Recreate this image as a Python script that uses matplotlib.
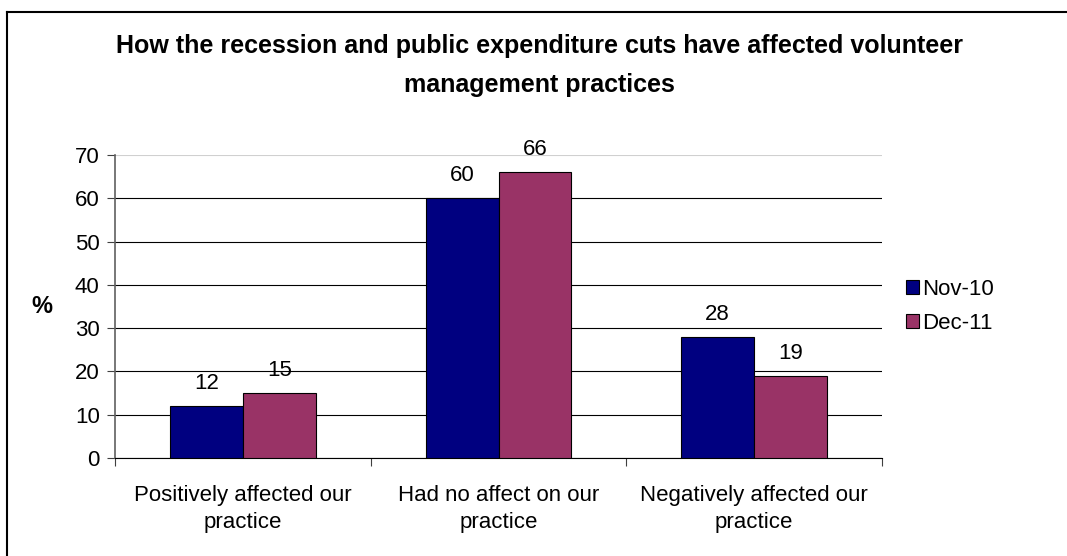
import matplotlib.pyplot as plt
from matplotlib.lines import Line2D
import numpy as np

plt.rcParams['font.family'] = ['Liberation Sans', 'DejaVu Sans']

categories = ['Positively affected our\npractice',
              'Had no affect on our\npractice',
              'Negatively affected our\npractice']
series_names = ['Nov-10', 'Dec-11']
nov_10 = [12, 60, 28]
dec_11 = [15, 66, 19]
y_ticks = [0, 10, 20, 30, 40, 50, 60, 70]

fig = plt.figure(figsize=(10.67, 5.56), dpi=100)
ax = fig.add_axes([0.1078, 0.1763, 0.7188, 0.5449])

x = np.arange(len(categories))
w = 0.285
b1 = ax.bar(x - w / 2, nov_10, w, color='#000080', edgecolor='black',
            linewidth=0.8, label=series_names[0], zorder=3)
b2 = ax.bar(x + w / 2, dec_11, w, color='#993366', edgecolor='black',
            linewidth=0.8, label=series_names[1], zorder=3)

for bars, vals in ((b1, nov_10), (b2, dec_11)):
    for r, v in zip(bars, vals):
        ax.text(r.get_x() + r.get_width() / 2, v + 2.8, str(v),
                ha='center', va='bottom', fontsize=16)

ax.set_xlim(-0.5, 2.5)
ax.set_ylim(0, 70)
ax.set_yticks(y_ticks)
ax.tick_params(axis='y', labelsize=16, length=6, width=0.8, pad=5,
               color='#404040')

ax.set_xticks([-0.5, 0.5, 1.5, 2.5])
ax.set_xticklabels([])
ax.tick_params(axis='x', length=6, width=0.8, direction='out', color='#404040')
for xi, lab in zip(x, categories):
    ax.text(xi, -6.3, lab, ha='center', va='top', fontsize=16,
            linespacing=1.35)

ax.yaxis.grid(True, color='black', linewidth=0.8, zorder=0)
ax.set_axisbelow(True)
for s in ('top', 'right'):
    ax.spines[s].set_visible(False)
ax.spines['left'].set_color('#606060')
ax.spines['left'].set_linewidth(1.2)
ax.spines['bottom'].set_color('black')
ax.spines['bottom'].set_linewidth(0.8)
# top gridline drawn lighter
ax.get_ygridlines()[-1].set_color('#d0d0d0')

ax.set_ylabel('%', fontsize=17, fontweight='bold', rotation=0,
              labelpad=24, va='center')

leg = ax.legend(loc='center left', bbox_to_anchor=(1.005, 0.5), frameon=False,
                fontsize=16, handlelength=0.6, handleheight=0.6,
                handletextpad=0.15, labelspacing=0.6)

fig.text(0.506, 0.917, 'How the recession and public expenditure cuts have affected volunteer',
         ha='center', va='center', fontsize=18, fontweight='bold')
fig.text(0.506, 0.847, 'management practices',
         ha='center', va='center', fontsize=18, fontweight='bold')

# chart frame: top and left edges only
fig.add_artist(Line2D([0.0068, 1.0], [0.979, 0.979], color='black', lw=1.5,
                      transform=fig.transFigure))
fig.add_artist(Line2D([0.0068, 0.0068], [0.0, 0.979], color='black', lw=1.5,
                      transform=fig.transFigure))

fig.savefig('out.png', dpi=100)
